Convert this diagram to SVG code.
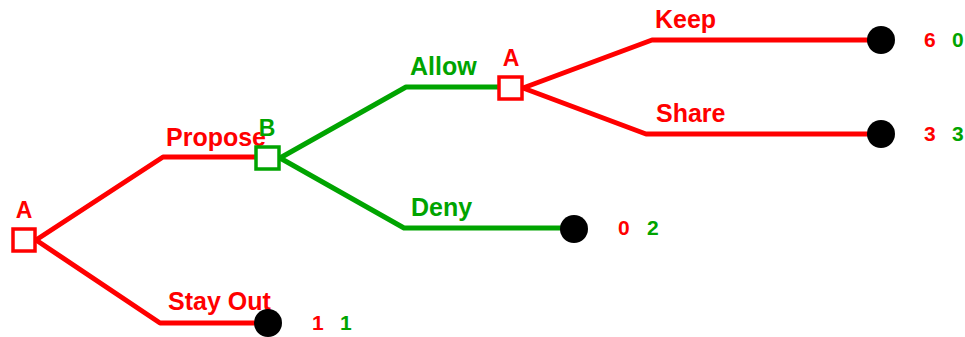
<svg xmlns="http://www.w3.org/2000/svg" width="965" height="337" viewBox="0 0 965 337">
<style>
.bg{fill:#ffffff}
.r{stroke:#ff0000}
.g{stroke:#00a400}
.edge{fill:none;stroke-width:5;stroke-linejoin:round}
.dec{fill:#ffffff;stroke-width:3.5}
.term{fill:#000000}
text{font-family:"Liberation Sans",Arial,sans-serif;font-weight:bold}
.lbl{font-size:25px}
.pl{font-size:23px}
.pay{font-size:21px}
.tr{fill:#ff0000}
.tg{fill:#00a400}
</style>
<rect class="bg" x="0" y="0" width="965" height="337"/>
<g id="connectors">
<polyline class="edge r" points="36,240 163,157 256,157"/>
<polyline class="edge r" points="36,240 160,323 268,323"/>
<polyline class="edge g" points="280,158 406,87 499,87"/>
<polyline class="edge g" points="280,158 404,228 574,228"/>
<polyline class="edge r" points="523,88 652,40 881,40"/>
<polyline class="edge r" points="523,88 646,134 881,134"/>
<text class="lbl tr" x="166" y="146">Propose</text>
<text class="lbl tr" x="168" y="310">Stay Out</text>
<text class="lbl tg" x="410" y="75">Allow</text>
<text class="lbl tg" x="411" y="216">Deny</text>
<text class="lbl tr" x="655" y="28">Keep</text>
<text class="lbl tr" x="656" y="122">Share</text>
</g>
<g id="A1">
<rect class="dec r" x="13" y="229" width="22" height="22"/>
<text class="pl tr" x="24" y="218" text-anchor="middle">A</text>
</g>
<g id="B">
<rect class="dec g" x="256" y="147" width="23" height="22"/>
<text class="pl tg" x="267" y="136" text-anchor="middle">B</text>
</g>
<g id="A2">
<rect class="dec r" x="499" y="77" width="23" height="22"/>
<text class="pl tr" x="511" y="66" text-anchor="middle">A</text>
</g>
<g id="T_stayout">
<circle class="term" cx="268" cy="323" r="14"/>
<text class="pay tr" x="312" y="330">1</text>
<text class="pay tg" x="340" y="330">1</text>
</g>
<g id="T_deny">
<circle class="term" cx="574" cy="229" r="14"/>
<text class="pay tr" x="618" y="235">0</text>
<text class="pay tg" x="647" y="235">2</text>
</g>
<g id="T_keep">
<circle class="term" cx="881" cy="40" r="14"/>
<text class="pay tr" x="924" y="47">6</text>
<text class="pay tg" x="952" y="47">0</text>
</g>
<g id="T_share">
<circle class="term" cx="881" cy="134" r="14"/>
<text class="pay tr" x="924" y="141">3</text>
<text class="pay tg" x="952" y="141">3</text>
</g>
</svg>
